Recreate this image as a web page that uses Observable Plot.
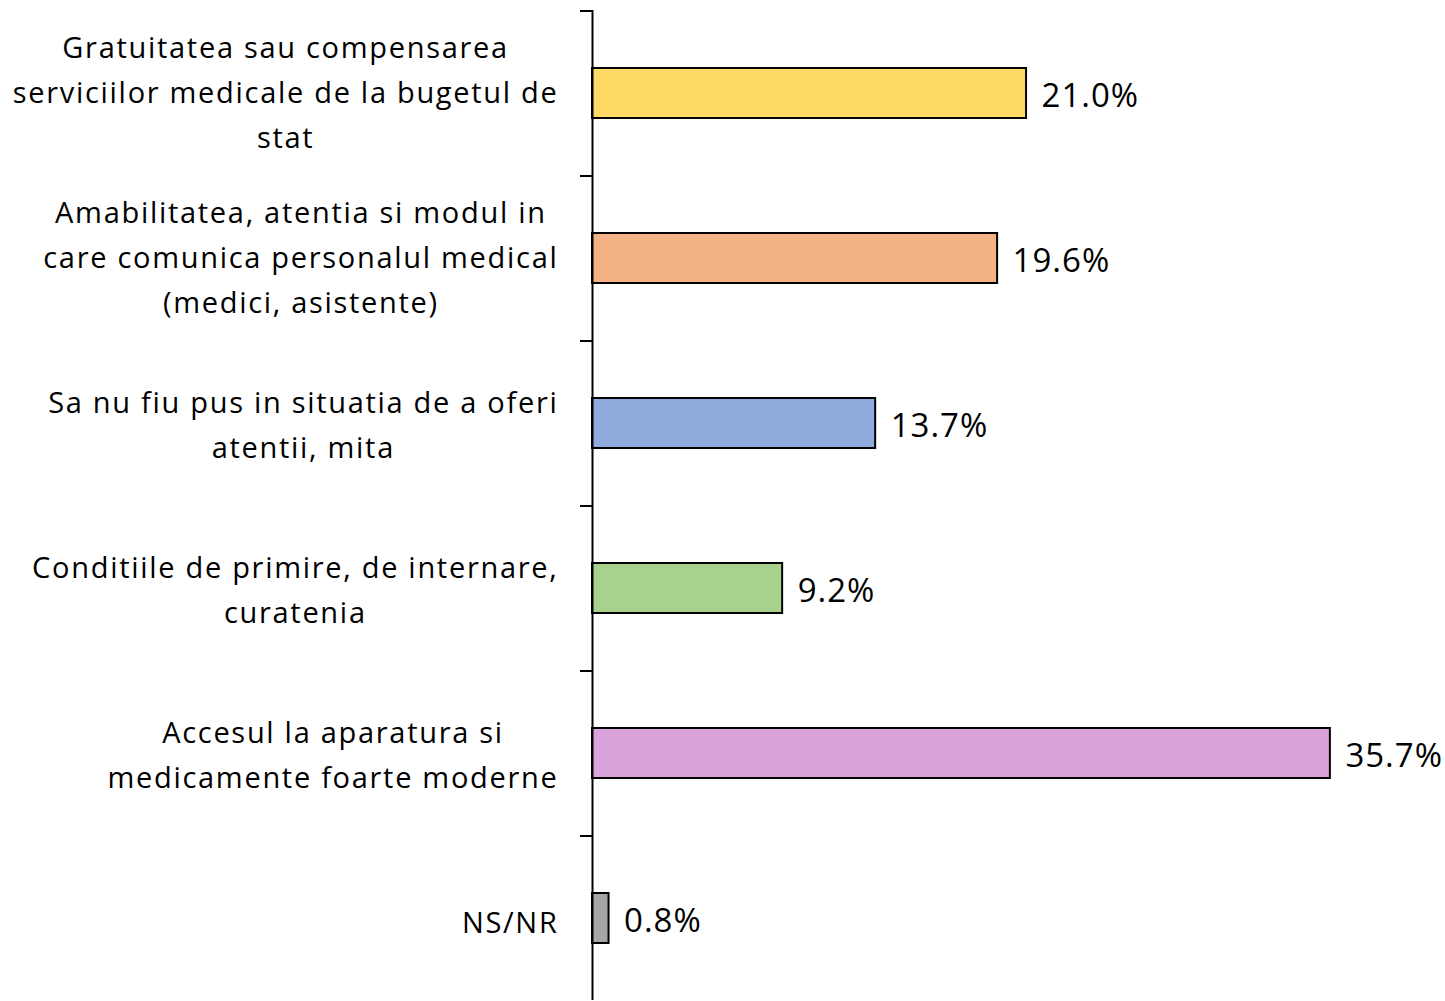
<!DOCTYPE html>
<html>
<head>
<meta charset="utf-8">
<script src="https://cdn.jsdelivr.net/npm/d3@7"></script>
<script src="https://cdn.jsdelivr.net/npm/@observablehq/plot@0.6"></script>
<style>
  html, body { margin: 0; padding: 0; background: #fff; }
  #chart svg { display: block; }
</style>
</head>
<body>
<div id="chart"></div>
<script>
const categories = [
  "Gratuitatea sau compensarea\nserviciilor medicale de la bugetul de\nstat",
  "Amabilitatea, atentia si modul in\ncare comunica personalul medical\n(medici, asistente)",
  "Sa nu fiu pus in situatia de a oferi\natentii, mita",
  "Conditiile de primire, de internare,\ncuratenia",
  "Accesul la aparatura si\nmedicamente foarte moderne",
  "NS/NR"
];
const values = [21.0, 19.6, 13.7, 9.2, 35.7, 0.8];
const colors = ["#FFD966", "#F4B183", "#8FAADC", "#A9D18E", "#DBA3DB", "#A6A6A6"];

const data = categories.map((c, i) => ({category: c, value: values[i], color: colors[i]}));

const FONT = "Open Sans";
const chart = Plot.plot({
  width: 1445,
  height: 1001,
  marginLeft: 592,
  marginRight: 0,
  marginTop: 10,
  marginBottom: 1,
  style: {fontFamily: FONT, background: "#fff", overflow: "visible"},
  x: {domain: [0, 41.27], axis: null},
  y: {domain: categories, paddingInner: 0.7, paddingOuter: 0.35, axis: null},
  marks: [
    Plot.barX(data, {y: "category", x: "value", fill: "color", stroke: "#000", strokeWidth: 2}),
    Plot.ruleX([0], {stroke: "#000", strokeWidth: 2}),
    Plot.ruleY(categories, {y: d => d, x1: 0, x2: 0, dy: -82.5, insetLeft: -12, stroke: "#000", strokeWidth: 2}),
    Plot.text(data, {
      y: "category", x: 0, text: "category", textAnchor: "end", dx: -34,
      fontSize: 29, lineHeight: 45 / 29, fill: "#000"
    }),
    Plot.text(data, {
      y: "category", x: "value", text: d => d.value.toFixed(1) + "%", textAnchor: "start", dx: 15, dy: 3,
      fontSize: 33, fill: "#000"
    })
  ]
});
document.getElementById("chart").appendChild(chart);

const groups = chart.querySelectorAll('g[aria-label="text"]');
const labelGroup = groups[0];
const valueGroup = groups[1];
if (valueGroup) valueGroup.setAttribute("letter-spacing", "1");
if (labelGroup) {
  labelGroup.setAttribute("letter-spacing", "1.7");
  // center each line within its label block, keeping the block right-aligned
  labelGroup.querySelectorAll("text").forEach(t => {
    const spans = t.querySelectorAll("tspan");
    if (!spans.length) return;
    let w = 0;
    spans.forEach(s => { w = Math.max(w, s.getComputedTextLength()); });
    t.setAttribute("text-anchor", "middle");
    spans.forEach(s => s.setAttribute("x", String(-w / 2)));
    const tr = t.getAttribute("transform") || "";
    t.setAttribute("transform", tr + ` translate(0,${-(spans.length - 1) * 2.5})`);
  });
}
</script>
</body>
</html>
